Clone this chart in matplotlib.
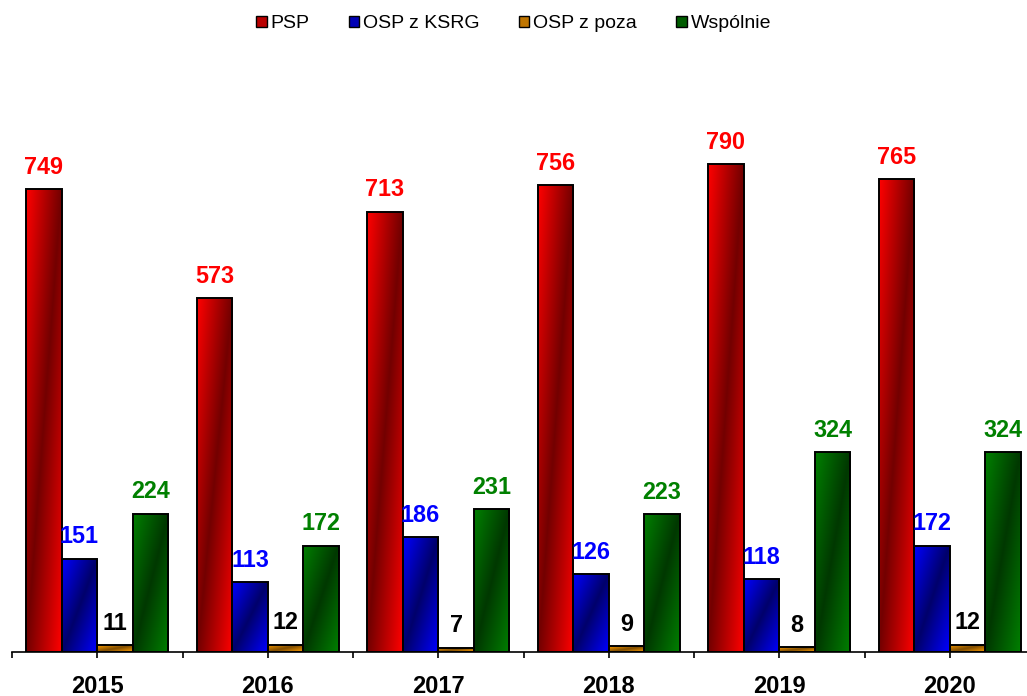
import matplotlib
matplotlib.use('Agg')
import matplotlib.pyplot as plt
import numpy as np

years = ['2015', '2016', '2017', '2018', '2019', '2020']
psp = [749, 573, 713, 756, 790, 765]
osp_ksrg = [151, 113, 186, 126, 118, 172]
osp_poza = [11, 12, 7, 9, 8, 12]
wspolnie = [224, 172, 231, 223, 324, 324]

series_names = ['PSP', 'OSP z KSRG', 'OSP z poza', 'Wspólnie']
series_values = [psp, osp_ksrg, osp_poza, wspolnie]
# jasny / ciemny kolor gradientu i kolor etykiety
bright = [(1.0, 0.0, 0.0), (0.0, 0.0, 1.0), (1.0, 0.62, 0.0), (0.0, 0.5, 0.0)]
dark = [(0.45, 0.0, 0.0), (0.0, 0.0, 0.42), (0.5, 0.3, 0.0), (0.0, 0.22, 0.0)]
label_colors = ['#ff0000', '#0000ff', '#000000', '#008000']

plt.rcParams['font.family'] = ['Liberation Sans', 'DejaVu Sans']

fig = plt.figure(figsize=(10.27, 6.96), dpi=100)
ax = fig.add_axes([12 / 1027, 44 / 696, 1023 / 1027, 556 / 696])

x = np.arange(len(years))
w = 0.2085


def gradient(c_bright, c_dark, nx=40, ny=200):
    u = np.linspace(0, 1, nx)[None, :]
    v = np.linspace(1, 0, ny)[:, None]
    t = np.abs(u - v)
    cb = np.array(c_bright)[None, None, :]
    cd = np.array(c_dark)[None, None, :]
    return cd + (cb - cd) * t[:, :, None]


for i, vals in enumerate(series_values):
    pos = x + (i - 1.5) * w
    bars = ax.bar(pos, vals, width=w, facecolor='none', edgecolor='black',
                  linewidth=1.4, zorder=3)
    img = gradient(bright[i], dark[i])
    for b in bars:
        x0, h, bw = b.get_x(), b.get_height(), b.get_width()
        im = ax.imshow(img, extent=(x0, x0 + bw, 0, h), aspect='auto',
                       interpolation='bilinear', zorder=2)
        im.set_clip_path(b)
    for p, v in zip(pos, vals):
        ax.annotate(str(v), (p, v), xytext=(0, 11), textcoords='offset points',
                    ha='center', va='baseline', fontsize=16.8, fontweight='bold',
                    color=label_colors[i])

ax.set_xlim(-0.5, len(years) - 0.5)
ax.set_ylim(0, 900)
ax.set_xticks(x)
ax.set_xticklabels(years, fontsize=17, fontweight='bold')
ax.set_xticks(np.arange(-0.5, len(years), 1.0), minor=True)
ax.tick_params(axis='x', which='both', direction='out', length=4.5, width=1.2,
               pad=12, color='black')
ax.set_yticks([])
for s in ['left', 'right', 'top']:
    ax.spines[s].set_visible(False)
ax.spines['bottom'].set_linewidth(1.2)

handles = [plt.Rectangle((0, 0), 1, 1, facecolor=[(a + b) / 2 for a, b in zip(bright[i], dark[i])],
                         edgecolor='black', linewidth=1.0) for i in range(4)]
fig.legend(handles, series_names, loc='center', bbox_to_anchor=(0.5, 1 - 24 / 696),
           ncol=4, frameon=False, fontsize=14, handlelength=0.55, handleheight=0.55,
           handletextpad=0.2, columnspacing=2.0, borderaxespad=0)

fig.savefig('out.png', dpi=100)
